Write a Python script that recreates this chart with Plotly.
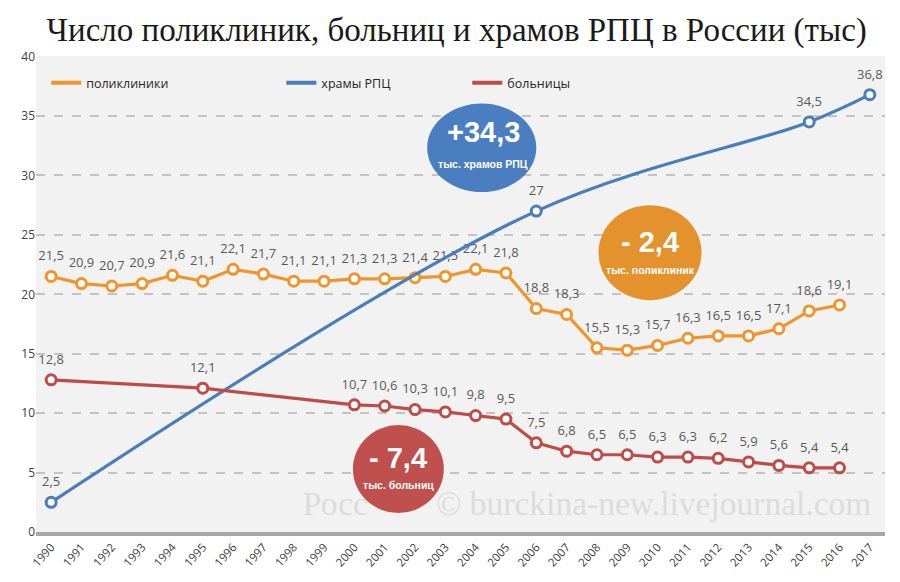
import plotly.graph_objects as go

years = list(range(1990, 2017))
polyclinics = [21.5, 20.9, 20.7, 20.9, 21.6, 21.1, 22.1, 21.7, 21.1, 21.1, 21.3, 21.3, 21.4, 21.5,
               22.1, 21.8, 18.8, 18.3, 15.5, 15.3, 15.7, 16.3, 16.5, 16.5, 17.1, 18.6, 19.1]

church_years = [1990, 2006, 2015, 2017]
churches = [2.5, 27, 34.5, 36.8]

hospital_years = [1990, 1995, 2000, 2001, 2002, 2003, 2004, 2005, 2006, 2007, 2008, 2009, 2010,
                  2011, 2012, 2013, 2014, 2015, 2016]
hospitals = [12.8, 12.1, 10.7, 10.6, 10.3, 10.1, 9.8, 9.5, 7.5, 6.8, 6.5, 6.5, 6.3, 6.3, 6.2,
             5.9, 5.6, 5.4, 5.4]

tick_years = list(range(1990, 2018))

ORANGE = "#F0952B"
BLUE = "#4A7EBB"
RED = "#BE4B48"
LABEL = "#595959"


def fmt(v):
    return f"{v:g}".replace(".", ",")


fig = go.Figure()

# watermark (the middle part is hidden under the red bubble in the original)
wm_font = dict(family="Liberation Serif", size=33.5, color="#dcdcdc")
fig.add_trace(go.Scatter(
    x=[1998.3], y=[2.1], mode="text", text=["Росс"], textposition="middle right",
    textfont=wm_font, showlegend=False, hoverinfo="skip", cliponaxis=False))
fig.add_trace(go.Scatter(
    x=[2017.05], y=[2.1], mode="text", text=["© burckina-new.livejournal.com"],
    textposition="middle left",
    textfont=wm_font, showlegend=False, hoverinfo="skip", cliponaxis=False))


def series(x, y, color, name, legend, shape="linear"):
    fig.add_trace(go.Scatter(
        x=x, y=y, mode="lines+markers",
        line=dict(color=color, width=3.2, shape=shape, smoothing=1.0),
        marker=dict(size=10, color="white", line=dict(color=color, width=3)),
        showlegend=False, cliponaxis=False, name=name))
    # value labels (invisible larger markers give the labels a bit more clearance)
    fig.add_trace(go.Scatter(
        x=x, y=y, mode="markers+text", text=[fmt(v) for v in y],
        textposition="top center",
        textfont=dict(family="Open Sans", size=13, color=LABEL),
        marker=dict(size=19, color="rgba(0,0,0,0)"),
        showlegend=False, cliponaxis=False, hoverinfo="skip"))
    fig.add_trace(go.Scatter(
        x=[None], y=[None], mode="lines", name=name, legend=legend,
        line=dict(color=color, width=4), showlegend=True))


series(years, polyclinics, ORANGE, "поликлиники", "legend")
series(church_years, churches, BLUE, "храмы РПЦ", "legend2", shape="spline")
series(hospital_years, hospitals, RED, "больницы", "legend3")

# bubbles
bubbles = [
    (2002.4, 2006.0, 28.6, 36.05, "#4A7EC0"),
    (2008.05, 2011.45, 19.5, 27.5, "#E3922E"),
    (1999.95, 2002.95, 1.6, 9.0, "#C0504D"),
]
shapes = []
for x0, x1, y0, y1, c in bubbles:
    shapes.append(dict(type="circle", xref="x", yref="y", x0=x0, x1=x1, y0=y0, y1=y1,
                       fillcolor=c, line=dict(width=0), layer="above"))

annotations = []
big = [(2004.25, 32.1, "+34,3"), (2009.75, 22.86, "- 2,4"), (2001.45, 4.75, "- 7,4")]
small = [(2004.25, 31.65, "тыс. храмов РПЦ"), (2009.75, 22.75, "тыс. поликлиник"),
         (2001.45, 4.65, "тыс. больниц")]
for x, y, t in big:
    annotations.append(dict(x=x, y=y, xref="x", yref="y", text=f"<b>{t}</b>", showarrow=False,
                            yanchor="bottom",
                            font=dict(family="Liberation Sans", size=29, color="white")))
for x, y, t in small:
    annotations.append(dict(x=x, y=y, xref="x", yref="y", text=f"<b>{t}</b>", showarrow=False,
                            yanchor="top",
                            font=dict(family="Liberation Sans", size=10.5, color="white")))

legend_common = dict(orientation="h", yanchor="middle", y=0.943, bgcolor="rgba(0,0,0,0)",
                     font=dict(family="Open Sans", size=12.5, color="#262626"), itemwidth=30)

fig.update_layout(
    width=892, height=574,
    margin=dict(l=28, r=15, t=48, b=50),
    paper_bgcolor="white", plot_bgcolor="#F2F2F2",
    title=dict(text="Число поликлиник, больниц и храмов РПЦ в России (тыс)",
               x=0.503, xanchor="center", y=0.962, yanchor="middle",
               font=dict(family="Liberation Serif", size=33, color="#1a1a1a")),
    xaxis=dict(range=[1989.5, 2017.5], tickvals=tick_years, ticktext=[str(y) for y in tick_years],
               tickangle=-48, showgrid=False, zeroline=False, showline=True, automargin=False,
               linecolor="#A6A6A6", linewidth=4, ticks="",
               tickfont=dict(family="Open Sans", size=11.5, color="#404040")),
    yaxis=dict(range=[0, 40.05], tickvals=list(range(0, 45, 5)), showgrid=True, automargin=False,
               gridcolor="#C3C3C3", griddash="dash", gridwidth=1.5, zeroline=False,
               tickfont=dict(family="Open Sans", size=12, color="#404040"), ticks=""),
    legend=dict(x=0.012, xanchor="left", **legend_common),
    legend2=dict(x=0.289, xanchor="left", **legend_common),
    legend3=dict(x=0.508, xanchor="left", **legend_common),
    shapes=shapes, annotations=annotations,
    separators=", ",
)

fig.write_html("out.html")
